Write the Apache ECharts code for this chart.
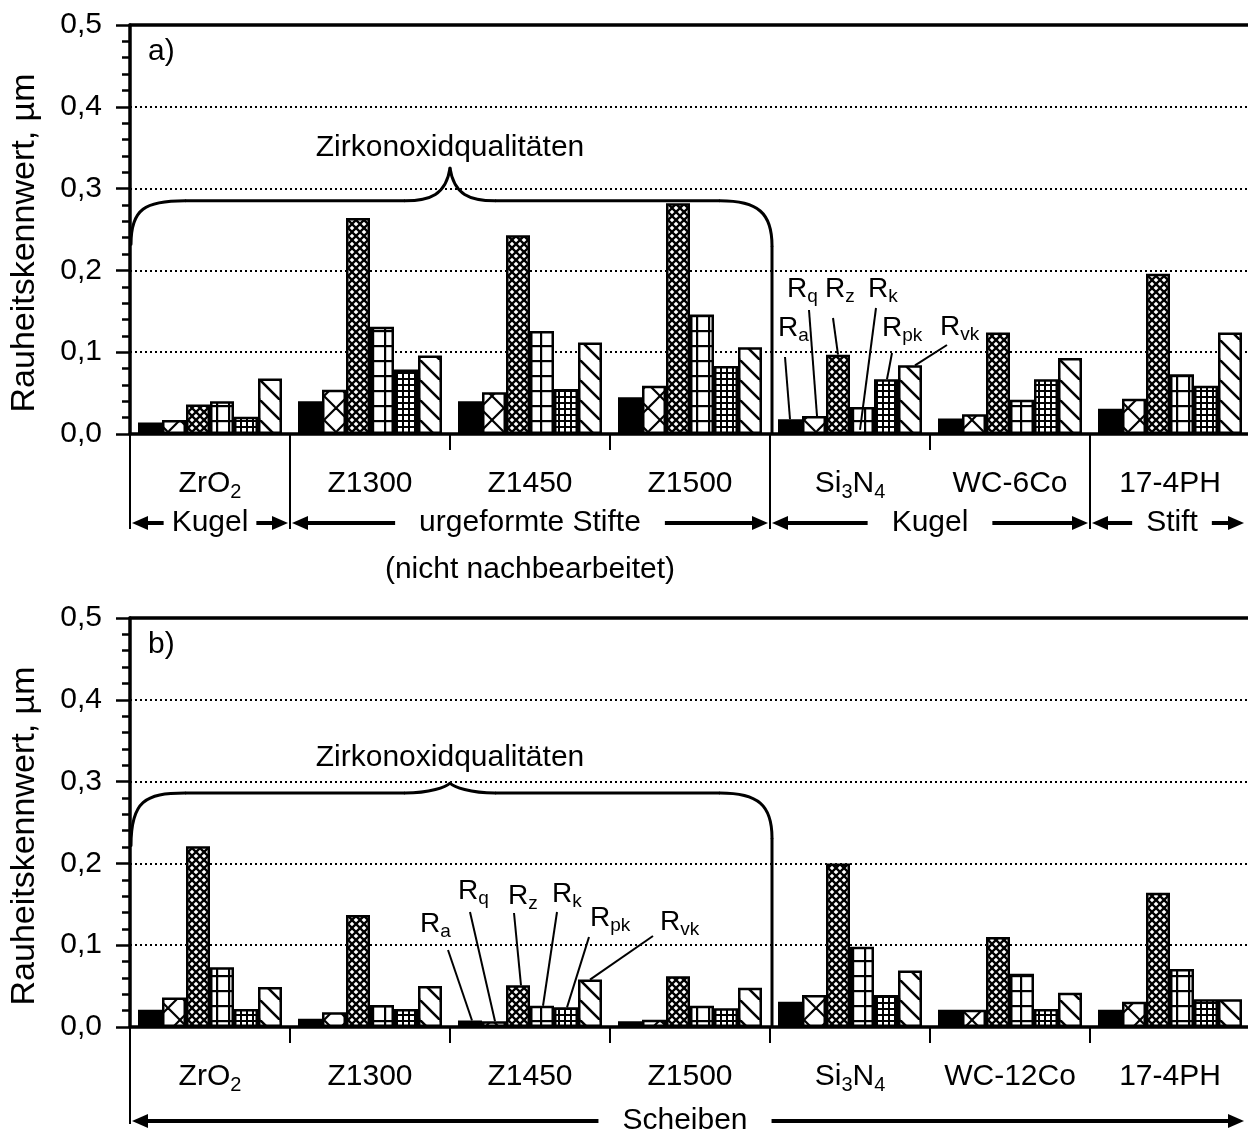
<!DOCTYPE html>
<html>
<head>
<meta charset="utf-8">
<script src="https://cdn.jsdelivr.net/npm/echarts@6/dist/echarts.min.js"></script>
<style>
  html, body { margin: 0; padding: 0; background: #fff; }
  #chart { width: 1248px; height: 1133px; }
</style>
</head>
<body>
<div id="chart"></div>
<script>
// Roughness parameters per material (µm)
const categoriesA = ['ZrO2', 'Z1300', 'Z1450', 'Z1500', 'Si3N4', 'WC-6Co', '17-4PH'];
const categoriesB = ['ZrO2', 'Z1300', 'Z1450', 'Z1500', 'Si3N4', 'WC-12Co', '17-4PH'];
const seriesNames = ['Ra', 'Rq', 'Rz', 'Rk', 'Rpk', 'Rvk'];

// a) balls / pins
const raA  = [0.014, 0.040, 0.040, 0.045, 0.018, 0.019, 0.031];
const rqA  = [0.017, 0.054, 0.051, 0.059, 0.022, 0.024, 0.043];
const rzA  = [0.036, 0.264, 0.243, 0.282, 0.097, 0.124, 0.196];
const rkA  = [0.040, 0.131, 0.126, 0.146, 0.033, 0.042, 0.073];
const rpkA = [0.021, 0.079, 0.055, 0.083, 0.067, 0.067, 0.059];
const rvkA = [0.068, 0.096, 0.112, 0.106, 0.084, 0.093, 0.124];

// b) discs
const raB  = [0.021, 0.010, 0.008, 0.007, 0.031, 0.021, 0.021];
const rqB  = [0.036, 0.018, 0.007, 0.009, 0.039, 0.021, 0.031];
const rzB  = [0.221, 0.137, 0.051, 0.062, 0.200, 0.110, 0.164];
const rkB  = [0.073, 0.027, 0.026, 0.026, 0.098, 0.065, 0.071];
const rpkB = [0.022, 0.022, 0.024, 0.023, 0.039, 0.022, 0.034];
const rvkB = [0.049, 0.050, 0.058, 0.048, 0.069, 0.042, 0.034];

const yTicks = ['0,0', '0,1', '0,2', '0,3', '0,4', '0,5'];

const panelValues = [
  [raA, rqA, rzA, rkA, rpkA, rvkA],
  [raB, rqB, rzB, rkB, rpkB, rvkB]
];
const panelCats = [categoriesA, categoriesB];

const FONT = '"Liberation Sans", Arial, Helvetica, sans-serif';
const FS = 30;
const richLabel = { 'ZrO2': 'ZrO{s|2}', 'Si3N4': 'Si{s|3}N{s|4}' };

// hatch fills, one per roughness parameter
function hatch(w, h, draw) {
  const c = document.createElement('canvas');
  c.width = w; c.height = h;
  const g = c.getContext('2d');
  g.fillStyle = '#fff';
  g.fillRect(0, 0, w, h);
  g.strokeStyle = '#000';
  g.fillStyle = '#000';
  draw(g, w, h);
  return { image: c, repeat: 'repeat' };
}
function diag(g, w, h, dir) {
  for (let o = -w; o <= w; o += w) {
    g.beginPath();
    if (dir > 0) { g.moveTo(o, 0); g.lineTo(o + w, h); }
    else { g.moveTo(o + w, 0); g.lineTo(o, h); }
    g.stroke();
  }
}
const fills = [
  '#000',
  hatch(24, 24, (g, w, h) => { g.lineWidth = 2.2; diag(g, w, h, 1); diag(g, w, h, -1); }),
  hatch(8, 8, (g, w, h) => { g.lineWidth = 2.3; diag(g, w, h, 1); diag(g, w, h, -1); }),
  hatch(12, 15, (g, w, h) => { g.fillRect(0, 0, 2.2, h); g.fillRect(0, 0, w, 2.2); }),
  hatch(6, 6, (g, w, h) => { g.fillRect(0, 0, 2, h); g.fillRect(0, 0, w, 2); }),
  hatch(20, 20, (g, w, h) => { g.lineWidth = 2.6; diag(g, w, h, 1); })
];

const GRID_LEFT = 130, GRID_W = 1120, GRID_H = 409;
const GRID_TOPS = [25, 618];

const option = {
  animation: false,
  backgroundColor: '#fff',
  grid: GRID_TOPS.map(t => ({
    left: GRID_LEFT, top: t, width: GRID_W, height: GRID_H,
    containLabel: false, outerBoundsMode: 'none'
  })),
  xAxis: [],
  yAxis: [],
  series: []
};

[0, 1].forEach(p => {
  option.xAxis.push({
    type: 'category', gridIndex: p, data: panelCats[p], position: 'bottom',
    axisLine: { lineStyle: { color: '#000', width: 3.5 } },
    axisTick: { show: true, interval: 0, length: 16, lineStyle: { color: '#000', width: 2 } },
    axisLabel: {
      interval: 0, margin: 32, color: '#000', fontFamily: FONT, fontSize: FS, lineHeight: 36,
      formatter: v => richLabel[v] || v,
      rich: { s: { fontFamily: FONT, fontSize: 20, lineHeight: 20, verticalAlign: 'bottom', color: '#000' } }
    },
    splitLine: { show: false }
  });
  option.xAxis.push({
    type: 'category', gridIndex: p, data: panelCats[p], position: 'top',
    axisLine: { lineStyle: { color: '#000', width: 3.5 } },
    axisTick: { show: false }, axisLabel: { show: false }, splitLine: { show: false }
  });
  option.yAxis.push({
    type: 'value', gridIndex: p, min: 0, max: 0.5, interval: 0.1,
    axisLine: { show: true, lineStyle: { color: '#000', width: 3.5 } },
    axisTick: { show: true, length: 14, lineStyle: { color: '#000', width: 2.5 } },
    minorTick: { show: true, splitNumber: 5, length: 8, lineStyle: { color: '#000', width: 2.5 } },
    splitLine: { show: true, lineStyle: { color: '#000', width: 2, type: [2, 3] } },
    axisLabel: {
      margin: 28, color: '#000', fontFamily: FONT, fontSize: FS,
      formatter: v => yTicks[Math.round(v * 10)]
    }
  });
  seriesNames.forEach((name, k) => {
    option.series.push({
      name, type: 'bar', xAxisIndex: 2 * p, yAxisIndex: p,
      data: panelValues[p][k],
      barGap: '0%', barCategoryGap: '10%',
      itemStyle: { color: fills[k], borderColor: '#000', borderWidth: 2.5 },
      silent: true
    });
  });
});

const chart = echarts.init(document.getElementById('chart'), null, { renderer: 'canvas' });
chart.setOption(option);

// ---- annotations: braces, group arrows, parameter call-outs ----
const measure = document.createElement('canvas').getContext('2d');
function textWidth(str, size) {
  measure.font = size + 'px ' + FONT;
  return measure.measureText(str).width;
}
const els = [];
const Z = 100;
function line(x1, y1, x2, y2, w) {
  els.push({ type: 'line', z: Z, silent: true, shape: { x1, y1, x2, y2 },
    style: { stroke: '#000', lineWidth: w, lineCap: 'butt' } });
}
function curve(x1, y1, cpx1, cpy1, cpx2, cpy2, x2, y2, w) {
  els.push({ type: 'bezierCurve', z: Z, silent: true,
    shape: { x1, y1, cpx1, cpy1, cpx2, cpy2, x2, y2 },
    style: { stroke: '#000', lineWidth: w, fill: null, lineCap: 'round' } });
}
function label(x, y, str, size, align, extra) {
  els.push(Object.assign({ type: 'text', z: Z, silent: true, x, y,
    style: { text: str, fill: '#000', font: size + 'px ' + FONT, align: align || 'center', verticalAlign: 'middle' } }, extra || {}));
}
function arrow(xTip, xTail, y, dir) {
  const head = 16;
  const base = xTip - dir * head;
  line(base, y, xTail, y, 4);
  els.push({ type: 'polygon', z: Z, silent: true,
    shape: { points: [[xTip, y], [base, y - 7], [base, y + 7]] }, style: { fill: '#000' } });
}
function span(x0, x1, y, str, cx, gap) {
  const tw = textWidth(str, FS);
  label(cx, y, str, FS);
  arrow(x0 + 2, cx - tw / 2 - gap, y, -1);
  arrow(x1 - 2, cx + tw / 2 + gap, y, 1);
}

const c0 = chart.convertToPixel({ xAxisIndex: 0 }, categoriesA[0]);
const band = chart.convertToPixel({ xAxisIndex: 0 }, categoriesA[1]) - c0;
function bound(i) { return c0 - band / 2 + i * band; }
function barCx(i, k) { return bound(i) + band * 0.05 + band * 0.15 * (k + 0.5); }
function yv(p, v) { return chart.convertToPixel({ yAxisIndex: p }, v); }
const rightEdge = Math.min(bound(7), 1248) - 2;

function brace(p, yH, yP, yL, yT) {
  const x0 = bound(0), x1 = bound(4), xm = (x0 + x1) / 2;
  const h = yv(p, yH), pk = yv(p, yP), l = yv(p, yL), y0 = yv(p, 0);
  const w = 3;
  curve(x0 + 1, l, x0 + 1, h + 8, x0 + 15, h, x0 + 55, h, w);
  line(x0 + 55, h, xm - 45, h, w);
  curve(xm - 45, h, xm - 20, h, xm - 4, h - 6, xm, pk, w);
  curve(xm, pk, xm + 4, h - 6, xm + 20, h, xm + 45, h, w);
  line(xm + 45, h, x1 - 50, h, w);
  curve(x1 - 50, h, x1 - 12, h, x1 + 2, h + 12, x1 + 2, h + 45, w);
  line(x1 + 2, h + 45, x1 + 2, y0, w);
  label(xm, yv(p, yT), 'Zirkonoxidqualitäten', FS);
}

function callouts(p, group, items) {
  const bx = bound(group), y0 = yv(p, 0);
  items.forEach((it, k) => {
    els.push({ type: 'text', z: Z, silent: true, x: bx + it.tx, y: y0 + it.ty,
      style: {
        text: '{m|R}{s|' + it.sub + '}', fill: '#000', align: 'left', verticalAlign: 'middle',
        rich: {
          m: { fontFamily: FONT, fontSize: 28, lineHeight: 34, fill: '#000' },
          s: { fontFamily: FONT, fontSize: 19, lineHeight: 19, verticalAlign: 'bottom', fill: '#000' }
        }
      } });
    const ev = it.ev != null ? it.ev : panelValues[p][k][group];
    line(bx + it.sx, y0 + it.sy, barCx(group, k) + it.ex, yv(p, ev), 2);
  });
}

// panel a)
(function () {
  const p = 0, y0 = yv(p, 0), top = yv(p, 0.5);
  label(bound(0) + 18, top + 27, 'a)', FS, 'left');
  label(25, top + 218, 'Rauheitskennwert, µm', 34, 'center', { rotation: Math.PI / 2 });
  [0, 1, 4, 6].forEach(i => line(bound(i), y0, bound(i), y0 + 95, 2));
  const ya = y0 + 89;
  span(bound(0), bound(1), ya, 'Kugel', (bound(0) + bound(1)) / 2, 8);
  span(bound(1), bound(4), ya, 'urgeformte Stifte', bound(2) + 80, 24);
  span(bound(4), bound(6), ya, 'Kugel', bound(5), 24);
  span(bound(6), rightEdge, ya, 'Stift', bound(6) + 82, 14);
  label(bound(2) + 80, y0 + 136, '(nicht nachbearbeitet)', FS);
  brace(p, 0.285, 0.325, 0.232, 0.350);
  callouts(p, 4, [
    { sub: 'a',  tx: 8,   ty: -106, sx: 15,  sy: -77,  ex: 0 },
    { sub: 'q',  tx: 17,  ty: -145, sx: 39,  sy: -124, ex: 3 },
    { sub: 'z',  tx: 55,  ty: -145, sx: 63,  sy: -116, ex: 0 },
    { sub: 'k',  tx: 98,  ty: -145, sx: 106, sy: -126, ex: -2, ev: 0.005 },
    { sub: 'pk', tx: 112, ty: -106, sx: 122, sy: -81,  ex: 1 },
    { sub: 'vk', tx: 170, ty: -107, sx: 177, sy: -89,  ex: 5 }
  ]);
})();

// panel b)
(function () {
  const p = 1, y0 = yv(p, 0), top = yv(p, 0.5);
  label(bound(0) + 18, top + 27, 'b)', FS, 'left');
  label(25, top + 218, 'Rauheitskennwert, µm', 34, 'center', { rotation: Math.PI / 2 });
  line(bound(0), y0, bound(0), y0 + 97, 2);
  span(bound(0), rightEdge, y0 + 94, 'Scheiben', 685, 24);
  brace(p, 0.286, 0.298, 0.222, 0.329);
  callouts(p, 2, [
    { sub: 'a',  tx: -30, ty: -103, sx: -2,  sy: -77,  ex: 2 },
    { sub: 'q',  tx: 8,   ty: -136, sx: 20,  sy: -115, ex: 1 },
    { sub: 'z',  tx: 58,  ty: -131, sx: 64,  sy: -114, ex: 3 },
    { sub: 'k',  tx: 102, ty: -133, sx: 107, sy: -115, ex: 1 },
    { sub: 'pk', tx: 140, ty: -109, sx: 139, sy: -90,  ex: 1 },
    { sub: 'vk', tx: 210, ty: -105, sx: 203, sy: -91,  ex: 0 }
  ]);
})();

chart.setOption({ graphic: { elements: els } });
</script>
</body>
</html>
